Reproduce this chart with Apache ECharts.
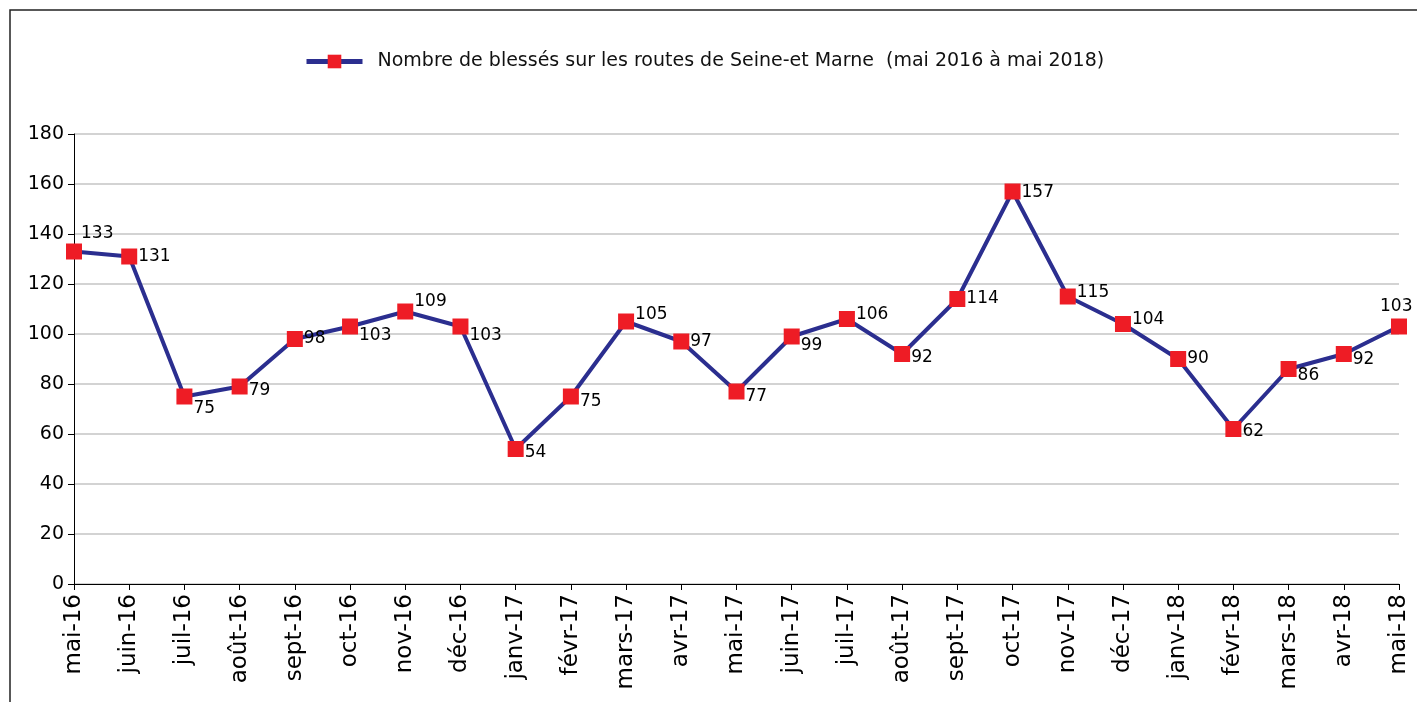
<!DOCTYPE html>
<html>
<head>
<meta charset="utf-8">
<script src="https://cdn.jsdelivr.net/npm/echarts@6/dist/echarts.min.js"></script>
<style>html,body{margin:0;padding:0;background:#fff;}#c{width:1417px;height:702px;}</style>
</head>
<body>
<div id="c"></div>
<script>
const categories = ['mai-16','juin-16','juil-16','août-16','sept-16','oct-16','nov-16','déc-16','janv-17','févr-17','mars-17','avr-17','mai-17','juin-17','juil-17','août-17','sept-17','oct-17','nov-17','déc-17','janv-18','févr-18','mars-18','avr-18','mai-18'];
const blesses = [133,131,75,79,98,103,109,103,54,75,105,97,77,99,106,92,114,157,115,104,90,62,86,92,103];
const seriesName = 'Nombre de blessés sur les routes de Seine-et Marne  (mai 2016 à mai 2018)';
const yTicks = {min: 0, max: 180, interval: 20};
// label offsets (style only): [dx, dy] relative to 'right' placement
const labelOffsets = [[-2,-18],[0,0],[0,12],[0,4],[0,0],[0,9],[0,-10],[0,9],[0,4],[0,5],[0,-7],[0,0],[0,5],[0,9],[0,-4],[0,4],[0,0],[0,1],[0,-4],[0,-4],[0,0],[0,3],[0,7],[0,6],[-28,-20]];

const FONT = 'DejaVu Sans, sans-serif';
const chart = echarts.init(document.getElementById('c'));
const data = blesses.map((v, i) => ({
  value: v,
  label: {offset: labelOffsets[i]}
}));
chart.setOption({
  animation: false,
  textStyle: {fontFamily: FONT},
  graphic: [{
    type: 'rect',
    shape: {x: 10, y: 10, width: 1420, height: 700},
    style: {fill: 'none', stroke: '#222', lineWidth: 1.5}
  }],
  legend: {
    left: 299, top: 47,
    itemWidth: 56, itemHeight: 17, itemGap: 10,
    lineStyle: {width: 5},
    textStyle: {fontSize: 19, color: '#111', fontFamily: FONT, padding: [0, 0, 0, 10]},
    data: [seriesName]
  },
  grid: {left: 74, right: 18, top: 134, bottom: 118, containLabel: false},
  xAxis: {
    type: 'category', boundaryGap: false, data: categories,
    axisLine: {lineStyle: {color: '#000', width: 1}},
    axisTick: {show: true, length: 6, lineStyle: {color: '#000'}, alignWithLabel: true},
    axisLabel: {rotate: 90, fontSize: 23, color: '#000', margin: 10, interval: 0, fontFamily: FONT},
    splitLine: {show: false}
  },
  yAxis: {
    type: 'value', min: yTicks.min, max: yTicks.max, interval: yTicks.interval,
    axisLine: {show: true, lineStyle: {color: '#000', width: 1}},
    axisTick: {show: true, length: 6, lineStyle: {color: '#000'}},
    axisLabel: {fontSize: 19, color: '#000', margin: 10, fontFamily: FONT},
    splitLine: {show: true, lineStyle: {color: '#c4c4c4', width: 1.5}}
  },
  series: [{
    name: seriesName,
    type: 'line',
    data: data,
    symbol: 'rect', symbolSize: 16,
    itemStyle: {color: '#ee1c25'},
    lineStyle: {color: '#2b2e8f', width: 4},
    label: {show: true, position: 'right', distance: 1, fontSize: 17, color: '#000', fontFamily: FONT}
  }]
});
</script>
</body>
</html>
